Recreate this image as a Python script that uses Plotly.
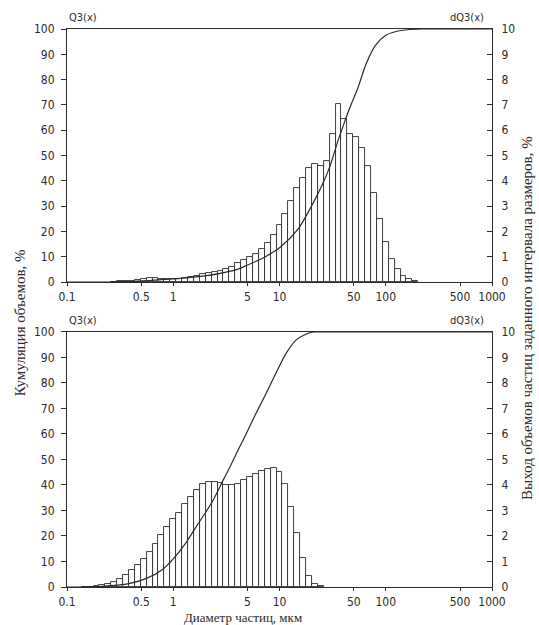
import plotly.graph_objects as go

# ---------------- data ----------------
CLASSES_PER_DECADE = 18  # size classes per decade (class j centred at 10**(j/18) um)

top_class = list(range(-10, 42))
top_dq3 = [0.01, 0.02, 0.03, 0.05, 0.08, 0.12, 0.14, 0.14, 0.12, 0.10,
           0.10, 0.13, 0.17, 0.21, 0.25, 0.30, 0.34, 0.38, 0.43, 0.50,
           0.60, 0.75, 0.88, 1.00, 1.12, 1.30, 1.55, 1.85, 2.25, 2.70,
           3.20, 3.70, 4.10, 4.50, 4.65, 4.60, 4.80, 5.85, 7.05, 6.45,
           5.85, 5.75, 5.30, 4.60, 3.50, 2.50, 1.60, 0.90, 0.50, 0.25,
           0.10, 0.05]

bottom_class = list(range(-15, 26))
bottom_dq3 = [0.01, 0.02, 0.04, 0.07, 0.12, 0.20, 0.32, 0.48, 0.66, 0.88,
              1.10, 1.38, 1.70, 2.05, 2.35, 2.65, 2.90, 3.25, 3.54, 3.82,
              4.03, 4.11, 4.12, 4.08, 4.00, 4.00, 4.05, 4.18, 4.32, 4.45,
              4.54, 4.62, 4.65, 4.50, 4.05, 3.15, 2.13, 1.12, 0.43, 0.13,
              0.05]

top_q3_d = [0.1, 0.25, 0.4, 0.6, 1.0, 2.0, 3.0, 4.0, 5.0, 7.0, 10, 15, 20, 25,
            30, 35, 40, 45, 55, 65, 80, 100, 125, 160, 220, 1000]
top_q3 = [0, 0, 0.2, 0.6, 1.2, 2.4, 3.7, 5.0, 6.7, 9.5, 13.5, 21, 30, 38,
          46, 55, 62, 68, 77, 86, 93.5, 97.5, 99, 99.7, 100, 100]

bottom_q3_d = [0.1, 0.15, 0.2, 0.3, 0.39, 0.56, 0.8, 1.0, 1.3, 1.64, 2.0, 2.37,
               3.0, 3.36, 4.0, 4.85, 6.0, 7.5, 9.3, 11.5, 14.3, 17.7, 21, 30, 1000]
bottom_q3 = [0, 0, 0.2, 0.7, 1.4, 3.4, 7.0, 11.0, 17, 23.6, 29, 34,
             42.5, 46.5, 53, 60, 68, 76, 84, 91.5, 96.8, 99.1, 100, 100, 100]

x_tick_vals = [0.1, 0.5, 1, 5, 10, 50, 100, 500, 1000]
x_tick_text = ["0.1", "0.5", "1", "5", "10", "50", "100", "500", "1000"]
left_ticks = list(range(0, 101, 10))
right_ticks = list(range(0, 11))

title_left = "Кумуляция объемов, %"
title_right = "Выход объемов частиц заданного интервала размеров, %"
title_bottom = "Диаметр частиц, мкм"

# ---------------- styling ----------------
INK = "#2b2b2b"
NARROW = "Liberation Sans Narrow, DejaVu Sans Condensed, Arial Narrow, sans-serif"
SERIF = "Liberation Serif, DejaVu Serif, serif"


def class_edges(classes):
    lo = [10 ** ((j - 0.5) / CLASSES_PER_DECADE) for j in classes]
    hi = [10 ** ((j + 0.5) / CLASSES_PER_DECADE) for j in classes]
    return lo, [h - l for l, h in zip(lo, hi)]


fig = go.Figure()

# bars on the (main) right-hand dQ3 axes, curves on the overlaying left Q3 axes
for classes, vals, xa, ya in [(top_class, top_dq3, "x", "y"),
                              (bottom_class, bottom_dq3, "x2", "y3")]:
    lo, w = class_edges(classes)
    fig.add_trace(go.Bar(x=lo, y=vals, width=w, offset=0,
                         xaxis=xa, yaxis=ya,
                         marker=dict(color="white", line=dict(color=INK, width=0.9))))

fig.add_trace(go.Scatter(x=top_q3_d, y=top_q3, mode="lines", xaxis="x", yaxis="y2",
                         line=dict(color=INK, width=1.2, shape="spline", smoothing=0.8)))
fig.add_trace(go.Scatter(x=bottom_q3_d, y=bottom_q3, mode="lines", xaxis="x2", yaxis="y4",
                         line=dict(color=INK, width=1.2, shape="spline", smoothing=0.8)))

tickfont = dict(family=NARROW, size=12, color=INK)
xcommon = dict(type="log", range=[-1, 3], tickmode="array", tickvals=x_tick_vals,
               ticktext=x_tick_text, ticks="outside", ticklen=3, tickcolor=INK,
               showline=True, linecolor=INK, linewidth=1.4, mirror=True,
               showgrid=False, zeroline=False, tickfont=tickfont)
yleft = dict(range=[0, 100], tickmode="array", tickvals=left_ticks, ticks="outside",
             ticklen=5, tickcolor=INK, showline=True, linecolor=INK, linewidth=1.2,
             showgrid=False, zeroline=False, tickfont=tickfont, ticklabelstandoff=4,
             side="left")
yright = dict(range=[0, 10], tickmode="array", tickvals=right_ticks, ticks="inside",
              ticklen=5, tickcolor=INK, showline=True, linecolor=INK, linewidth=1.2,
              showgrid=False, zeroline=False, tickfont=tickfont, side="right",
              ticklabelstandoff=6)

TOP_DOM = [0.5466, 1.0]
BOT_DOM = [0.0, 0.457]

fig.update_layout(
    width=539, height=625,
    margin=dict(l=67, r=47, t=29, b=38),
    paper_bgcolor="white", plot_bgcolor="white",
    showlegend=False, bargap=0, barmode="overlay",
    xaxis=dict(xcommon, anchor="y", domain=[0, 1]),
    yaxis=dict(yright, domain=TOP_DOM, anchor="x"),
    yaxis2=dict(yleft, overlaying="y", anchor="x"),
    xaxis2=dict(xcommon, anchor="y3", domain=[0, 1]),
    yaxis3=dict(yright, domain=BOT_DOM, anchor="x2"),
    yaxis4=dict(yleft, overlaying="y3", anchor="x2"),
)

small = dict(family=NARROW, size=11, color=INK)
ann = []
for dom in (TOP_DOM, BOT_DOM):
    ann.append(dict(text="Q3(x)", xref="paper", yref="paper", x=0.0, y=dom[1],
                    xanchor="left", yanchor="bottom", yshift=3, showarrow=False, font=small))
    ann.append(dict(text="dQ3(x)", xref="paper", yref="paper", x=0.985, y=dom[1],
                    xanchor="right", yanchor="bottom", yshift=3, showarrow=False, font=small))

ann.append(dict(text=title_left, xref="paper", yref="paper", x=-0.110, y=0.473,
                xanchor="center", yanchor="middle",
                textangle=-90, showarrow=False, font=dict(family=SERIF, size=15, color=INK)))
ann.append(dict(text=title_right, xref="paper", yref="paper", x=1.082, y=0.482,
                xanchor="center", yanchor="middle",
                textangle=-90, showarrow=False, font=dict(family=SERIF, size=15, color=INK)))
ann.append(dict(text=title_bottom, xref="paper", yref="paper", x=0.414, y=-0.054,
                xanchor="center", yanchor="middle",
                showarrow=False, font=dict(family=SERIF, size=13, color=INK)))
fig.update_layout(annotations=ann)

fig.write_html("out.html")
